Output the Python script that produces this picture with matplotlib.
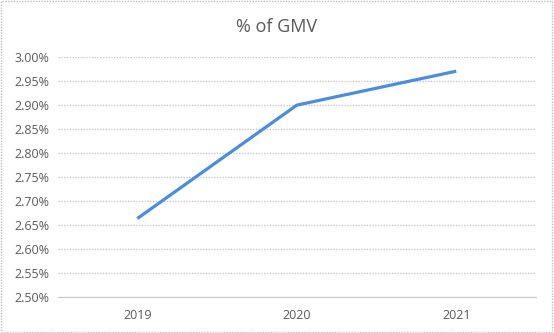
import matplotlib
matplotlib.use('Agg')
import matplotlib.pyplot as plt
from matplotlib.patches import Rectangle
from matplotlib.ticker import FuncFormatter

# data
years = ['2019', '2020', '2021']
gmv_pct = [2.663, 2.900, 2.971]

plt.rcParams['font.family'] = ['Open Sans', 'DejaVu Sans']

fig = plt.figure(figsize=(5.54, 3.33), dpi=100)
ax = fig.add_axes([57.6 / 554, 1 - 296.5 / 333, 478.4 / 554, 239.2 / 333])

x = range(len(years))
ax.plot(x, gmv_pct, color='#4A8EDB', linewidth=2.3, solid_capstyle='butt', zorder=3)

ax.set_xlim(-0.5, len(years) - 0.5)
ax.set_ylim(2.50, 3.00)
ax.set_yticks([2.50 + 0.05 * i for i in range(11)])
ax.yaxis.set_major_formatter(FuncFormatter(lambda v, p: f'{v:.2f}%'))
ax.set_xticks(list(x))
ax.set_xticklabels(years)

ax.grid(axis='y', color='#C8C8C8', linestyle=(0, (1, 1)), linewidth=1.0)
for s in ['top', 'right', 'left']:
    ax.spines[s].set_visible(False)
ax.spines['bottom'].set_color('#C8C8C8')
ax.spines['bottom'].set_linestyle((0, (1, 1)))
ax.tick_params(axis='both', length=0, labelsize=9, colors='#595959')
ax.tick_params(axis='y', pad=6)
ax.tick_params(axis='x', pad=9)

fig.text(0.5, 1 - 27 / 333, '% of GMV', ha='center', va='center', fontsize=13, color='#595959')

# dotted chart border
fig.patches.append(Rectangle((0.002, 0.003), 0.995, 0.994, transform=fig.transFigure,
                             fill=False, edgecolor='#BFBFBF', linestyle=(0, (1, 1)), linewidth=1.0))

fig.savefig('out.png', dpi=100)
